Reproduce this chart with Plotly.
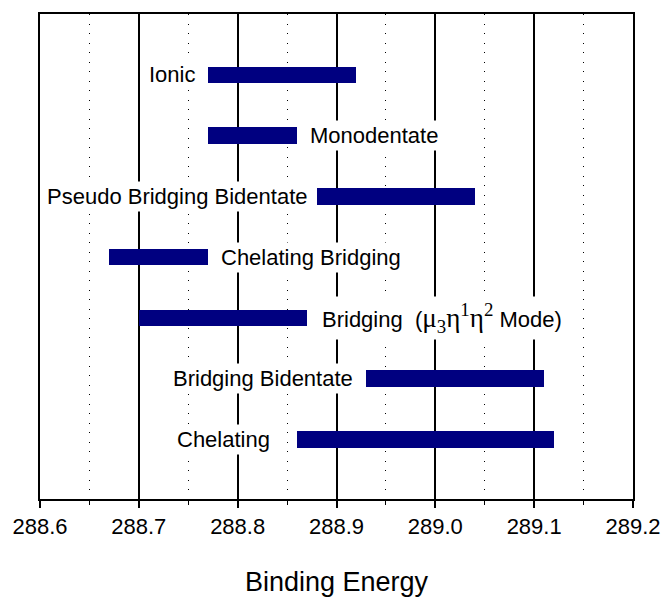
import plotly.graph_objects as go

names = ["Ionic", "Monodentate", "Pseudo Bridging Bidentate", "Chelating Bridging",
         "Bridging", "Bridging Bidentate", "Chelating"]
label_texts = ["Ionic", "Monodentate", "Pseudo Bridging Bidentate", "Chelating Bridging",
               "Bridging  (<span style='font-family:Liberation Serif, Times New Roman, serif;font-size:27px'>μ<sub>3</sub>η<sup>1</sup>η<sup>2</sup></span> Mode)",
               "Bridging Bidentate", "Chelating"]
starts = [288.77, 288.77, 288.88, 288.67, 288.70, 288.93, 288.86]
ends = [288.92, 288.86, 289.04, 288.77, 288.87, 289.11, 289.12]
label_side = ["left", "right", "left", "right", "right", "left", "left"]
label_gap_px = [10, 10, 6, 10, 12, 10, 24]
tick_vals = [288.6, 288.7, 288.8, 288.9, 289.0, 289.1, 289.2]
tick_text = ["288.6", "288.7", "288.8", "288.9", "289.0", "289.1", "289.2"]

FONT = "Liberation Sans, Arial, sans-serif"

widths = [e - s for s, e in zip(starts, ends)]

fig = go.Figure()
fig.add_trace(go.Bar(
    y=names, x=widths, base=starts, orientation="h", width=0.27,
    marker=dict(color="#000080", line=dict(width=0)),
    hoverinfo="skip", showlegend=False,
))

for n, t, s, e, side, g in zip(names, label_texts, starts, ends, label_side, label_gap_px):
    if side == "left":
        fig.add_annotation(x=s, y=n, text=t, xanchor="right", yanchor="middle",
                           xshift=-g, showarrow=False, bgcolor="white", borderpad=2,
                           font=dict(family=FONT, size=22, color="black"))
    else:
        fig.add_annotation(x=e, y=n, text=t, xanchor="left", yanchor="middle",
                           xshift=g, showarrow=False, bgcolor="white", borderpad=2,
                           font=dict(family=FONT, size=22, color="black"))

fig.update_layout(
    width=665, height=597,
    margin=dict(l=40, r=32, t=14, b=98, autoexpand=False),
    paper_bgcolor="white", plot_bgcolor="white",
    font=dict(family=FONT, color="black"),
    bargap=0,
)
fig.update_xaxes(
    range=[288.6, 289.2], automargin=False,
    tickvals=tick_vals, ticktext=tick_text,
    tickfont=dict(family=FONT, size=22, color="black"),
    ticks="outside", ticklen=7, tickwidth=1.5, tickcolor="black",
    showgrid=True, gridcolor="black", gridwidth=1.5,
    minor=dict(dtick=0.05, tick0=288.6, ticks="outside", ticklen=4, tickwidth=1.2,
               tickcolor="black", showgrid=True, gridcolor="black", gridwidth=1,
               griddash="1px,8.5px"),
    showline=True, linecolor="black", linewidth=1.5, mirror=True,
    zeroline=False,
    title=dict(text="Binding Energy", font=dict(family=FONT, size=27, color="black"), standoff=40),
)
fig.update_yaxes(
    type="category", categoryorder="array", categoryarray=names,
    range=[6.98, -1.0], automargin=False,
    showticklabels=False, ticks="", showgrid=False, zeroline=False,
    showline=True, linecolor="black", linewidth=1.5, mirror=True,
)

fig.write_html("out.html")
